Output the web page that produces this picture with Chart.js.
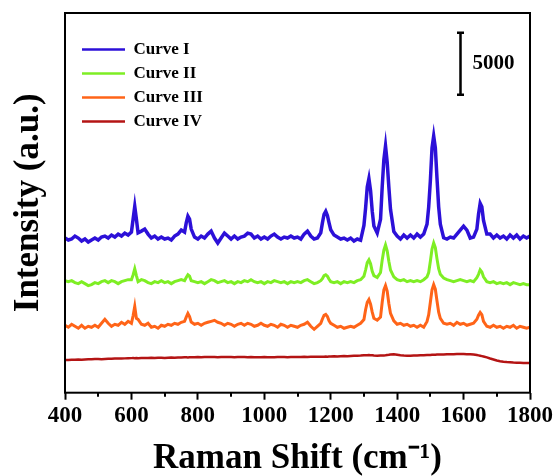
<!DOCTYPE html>
<html>
<head>
<meta charset="utf-8">
<script src="https://cdn.jsdelivr.net/npm/chart.js@4.4.1/dist/chart.umd.min.js"></script>
<style>
    body { margin: 0; background: #fff; }
    #caixa { width: 559px; height: 476px; }
</style>
</head>
<body>
<div id="caixa"><canvas id="grafico"></canvas></div>
<script>
// Raman shift (cm-1) shared by all curves
const ramanShift = [
    400, 410, 420, 430, 440, 450, 460, 470, 480, 490, 500, 510, 520, 530, 540, 550, 560, 570, 580, 590, 600,
    605, 610, 615, 620,
    630, 640, 650, 660, 670, 680, 690, 700, 710, 720, 730, 740, 750, 760,
    765, 770, 775, 780,
    790, 800, 810, 820, 830, 840, 850, 860, 870, 880,
    890, 900, 910, 920, 930, 940, 950, 960, 970, 980,
    990, 1000, 1010, 1020, 1030, 1040, 1050, 1060, 1070, 1080,
    1090, 1100, 1110, 1120, 1130, 1140, 1150, 1160, 1170,
    1175, 1180, 1185, 1190, 1195, 1200,
    1210, 1220, 1230, 1240, 1250, 1260, 1270, 1280, 1290, 1300,
    1305, 1310, 1315, 1320, 1325, 1330,
    1340, 1350,
    1355, 1360, 1365, 1370, 1375, 1380,
    1390, 1400, 1410, 1420, 1430, 1440, 1450, 1460, 1470, 1480, 1490,
    1495, 1500, 1505, 1510, 1515, 1520, 1525, 1530,
    1540, 1550, 1560, 1570, 1580, 1590, 1600, 1610, 1620, 1630, 1640,
    1645, 1650, 1655, 1660,
    1670, 1680, 1690, 1700, 1710, 1720, 1730, 1740, 1750, 1760, 1770, 1780, 1790, 1800
];

const curva1 = [
    12480, 12320, 12400, 12640, 12480, 12240, 12400, 12160, 12320, 12480, 12320, 12560, 12640, 12480, 12720, 12560, 12800, 12640, 12880, 12720, 12960,
    14000, 15040, 14000, 12900,
    13040, 13200, 12800, 12480, 12640, 12400, 12560, 12400, 12480, 12320, 12640, 12800, 13120, 12960,
    13700, 14240, 14000, 13200,
    12560, 12400, 12640, 12480, 12800, 13040, 12480, 12080, 12480, 12880,
    12640, 12400, 12640, 12400, 12560, 12640, 12880, 12800, 12480, 12640,
    12400, 12560, 12400, 12640, 12800, 12560, 12400, 12560, 12480, 12640,
    12480, 12560, 12400, 12800, 13040, 12640, 12400, 12480, 12900,
    13700, 14400, 14640, 14300, 13700, 13150,
    12720, 12560, 12400, 12480, 12320, 12480, 12240, 12400, 12300, 13500,
    14900, 16600, 17280, 16300, 14650, 13450,
    12880, 14000,
    16600, 18800, 19920, 18600, 16600, 14800,
    13000, 12640, 12400, 12720, 12480, 12720, 12480, 12800, 12560, 12800, 13600,
    15000, 17100, 19750, 20720, 19750, 17300, 15000, 13600,
    12500, 12400, 12560, 12480, 12800, 13120, 13440, 13120, 12480, 12560, 13200,
    14400, 15280, 15000, 13900,
    12800, 12800, 12480, 12720, 12480, 12640, 12400, 12720, 12480, 12720, 12400, 12640, 12480, 12640
];

const curva2 = [
    9040, 8960, 9040, 8880, 8800, 8960, 8800, 8640, 8720, 8880, 8800, 8960, 9040, 8880, 9040, 8960, 8800, 8960, 9040, 9120, 9120,
    9500, 10000, 9450, 8960,
    9120, 9040, 8880, 8800, 8960, 8880, 9040, 8880, 8960, 8800, 8960, 9040, 9120, 9040,
    9300, 9520, 9400, 9040,
    8960, 8880, 8960, 8800, 8960, 9120, 9040, 8880, 8960, 9040,
    8880, 8960, 8800, 8960, 8880, 9040, 8960, 9120, 8960, 8880,
    8960, 8800, 8960, 8880, 9040, 8960, 8880, 8960, 8800, 8960,
    8880, 8960, 8880, 9040, 9120, 8960, 8800, 8880, 9040,
    9200, 9450, 9520, 9400, 9150, 8960,
    8880, 8960, 8800, 8960, 8880, 8960, 8880, 9040, 9120, 9400,
    9900, 10500, 10720, 10400, 9800, 9450,
    9300, 9700,
    10700, 11500, 11920, 11450, 10600, 9900,
    9350, 9120, 9040, 9120, 8960, 9040, 8960, 9040, 8960, 9120, 9350,
    9700, 10600, 11600, 12080, 11700, 10800, 10000, 9550,
    9250, 9120, 9040, 8960, 9040, 9120, 9040, 8960, 9040, 8960, 9280,
    9550, 9920, 9750, 9350,
    8960, 8880, 8960, 8800, 8880, 8800, 8880, 8720, 8880, 8800, 8720, 8800, 8720, 8720
];

const curva3 = [
    5440, 5280, 5520, 5360, 5200, 5440, 5200, 5360, 5280, 5440, 5280, 5600, 5920, 5600, 5360, 5520, 5440, 5680, 5520, 5760, 5600,
    6200, 6960, 6000, 5920,
    5520, 5440, 5600, 5280, 5360, 5200, 5440, 5360, 5520, 5440, 5600, 5520, 5680, 5760,
    6100, 6400, 6150, 5700,
    5520, 5600, 5440, 5600, 5680, 5760, 5840, 5680, 5600, 5440,
    5600, 5520, 5360, 5520, 5600, 5440, 5600, 5520, 5360, 5440,
    5600, 5440, 5360, 5520, 5440, 5280, 5520, 5440, 5280, 5440,
    5360, 5280, 5440, 5520, 5680, 5360, 5120, 5360, 5600,
    5950, 6250, 6320, 6150, 5800, 5600,
    5440, 5280, 5360, 5200, 5280, 5360, 5280, 5440, 5600, 5900,
    6700, 7300, 7520, 7150, 6500, 6000,
    5850, 6100,
    7300, 8300, 8640, 8200, 7200, 6400,
    5800, 5520, 5600, 5440, 5520, 5360, 5440, 5280, 5440, 5280, 5750,
    6300, 7300, 8300, 8720, 8350, 7400, 6500, 6000,
    5600, 5520, 5600, 5440, 5680, 5520, 5600, 5440, 5520, 5600, 5920,
    6250, 6480, 6300, 5750,
    5360, 5280, 5440, 5280, 5360, 5200, 5360, 5280, 5440, 5200, 5360, 5280, 5200, 5280
];

const curva4 = [
    2640, 2640, 2660, 2650, 2680, 2660, 2680, 2700, 2690, 2710, 2720, 2700, 2720, 2740, 2730, 2750, 2760, 2750, 2770, 2780, 2790,
    2800, 2790, 2800, 2790,
    2800, 2810, 2800, 2820, 2810, 2830, 2820, 2810, 2830, 2840, 2830, 2850, 2840, 2860,
    2860, 2850, 2860, 2870,
    2870, 2880, 2870, 2890, 2880, 2890, 2880, 2870, 2890, 2880,
    2890, 2880, 2870, 2880, 2890, 2880, 2870, 2880, 2870, 2860,
    2870, 2880, 2870, 2860, 2870, 2880, 2890, 2880, 2870, 2880,
    2890, 2880, 2890, 2900, 2890, 2900, 2910, 2900, 2910,
    2900, 2910, 2920, 2910, 2920, 2930,
    2940, 2930, 2950, 2960, 2950, 2970, 2980, 2990, 3000, 3020,
    3030, 3020, 3040, 3030, 3020, 3000,
    2990, 3000,
    3000, 3010, 3020, 3040, 3060, 3090,
    3110, 3070, 3030, 3000, 2990, 2990, 3000, 3010, 3020, 3030, 3040,
    3040, 3050, 3060, 3060, 3070, 3080, 3080, 3090,
    3090, 3100, 3110, 3110, 3120, 3120, 3120, 3110, 3100, 3080, 3040,
    3010, 2980, 2950, 2920,
    2850, 2760, 2680, 2600, 2540, 2500, 2470, 2450, 2430, 2420, 2410, 2400, 2400, 2390
];

const nomesCurvas = ['Curve I', 'Curve II', 'Curve III', 'Curve IV'];
const coresCurvas = ['#2c10d8', '#7eee24', '#ff6418', '#b41414'];
const espessuras = [3.5, 3, 3, 2.5];
const ticksMenores = [500, 700, 900, 1100, 1300, 1500, 1700];

// barra de escala "5000"
const barraValor = 5000;
const barraX = 1590;
const barraTopo = 29040;

const fonte = 'Liberation Serif, Times New Roman, serif';

function montarPontos(valores) {
    return valores.map((v, i) => ({ x: ramanShift[i], y: v }));
}

const listaSeries = [curva1, curva2, curva3, curva4];
const datasets = listaSeries.map((serie, i) => ({
    label: nomesCurvas[i],
    data: montarPontos(serie),
    borderColor: coresCurvas[i],
    backgroundColor: coresCurvas[i],
    borderWidth: espessuras[i],
    pointRadius: 0,
    tension: 0,
    fill: false
}));

const pluginMoldura = {
    id: 'moldura',
    afterLayout(chart) {
        // empurra a legenda para dentro do quadro
        const area = chart.chartArea;
        const leg = chart.legend;
        if (!leg) return;
        leg.left = area.left + 10;
        leg.top = area.top + 21;
        leg.right = area.right;
        leg.bottom = area.bottom;
    },
    afterDraw(chart) {
        const ctx = chart.ctx;
        const area = chart.chartArea;
        const x = chart.scales.x;
        const y = chart.scales.y;
        ctx.save();
        ctx.strokeStyle = '#000';
        ctx.lineWidth = 2;
        ctx.strokeRect(area.left, area.top, area.right - area.left, area.bottom - area.top);

        // ticks menores
        ticksMenores.forEach(v => {
            const px = Math.round(x.getPixelForValue(v));
            ctx.beginPath();
            ctx.moveTo(px, area.bottom);
            ctx.lineTo(px, area.bottom + 4);
            ctx.stroke();
        });

        // barra de escala
        const bx = Math.round(x.getPixelForValue(barraX)) + 0.5;
        const y1 = y.getPixelForValue(barraTopo);
        const y2 = y.getPixelForValue(barraTopo - barraValor);
        ctx.lineWidth = 2.5;
        ctx.beginPath();
        ctx.moveTo(bx, y1);
        ctx.lineTo(bx, y2);
        ctx.moveTo(bx - 3.5, y1);
        ctx.lineTo(bx + 3.5, y1);
        ctx.moveTo(bx - 3.5, y2);
        ctx.lineTo(bx + 3.5, y2);
        ctx.stroke();
        ctx.fillStyle = '#000';
        ctx.font = 'bold 21px ' + fonte;
        ctx.textBaseline = 'middle';
        ctx.textAlign = 'left';
        ctx.fillText(String(barraValor), bx + 12, (y1 + y2) / 2);
        ctx.restore();
    }
};

new Chart(document.getElementById('grafico'), {
    type: 'line',
    data: { datasets: datasets },
    options: {
        responsive: true,
        maintainAspectRatio: false,
        animation: false,
        layout: { padding: { left: 6, right: 29, top: 13, bottom: 0 } },
        scales: {
            x: {
                type: 'linear',
                min: 400,
                max: 1800,
                ticks: {
                    stepSize: 200,
                    autoSkip: false,
                    maxRotation: 0,
                    padding: 4,
                    color: '#000',
                    callback: (valor) => String(valor),
                    font: { family: fonte, size: 23, weight: 'bold', lineHeight: 1.1 }
                },
                grid: { display: true, drawOnChartArea: false, tickLength: 7, tickWidth: 2, tickColor: '#000' },
                border: { display: false },
                title: {
                    display: true,
                    text: 'Raman Shift (cm\u207B\u00B9)',
                    color: '#000',
                    padding: { top: 8, bottom: 0 },
                    font: { family: fonte, size: 35, weight: 'bold', lineHeight: 1.0 }
                }
            },
            y: {
                min: 0,
                max: 30640,
                ticks: { display: false },
                grid: { display: false },
                border: { display: false },
                title: {
                    display: true,
                    text: 'Intensity (a.u.)',
                    color: '#000',
                    padding: { top: 2, bottom: 7 },
                    font: { family: fonte, size: 35, weight: 'bold', lineHeight: 1.2 }
                }
            }
        },
        plugins: {
            legend: {
                position: 'chartArea',
                align: 'start',
                labels: {
                    usePointStyle: true,
                    pointStyle: 'line',
                    pointStyleWidth: 43,
                    padding: 7,
                    color: '#000',
                    font: { family: fonte, size: 17, weight: 'bold' },
                    generateLabels(chart) {
                        const itens = Chart.defaults.plugins.legend.labels.generateLabels(chart);
                        itens.forEach(item => { item.lineWidth = 2.5; });
                        return itens;
                    }
                }
            },
            tooltip: { enabled: false }
        }
    },
    plugins: [pluginMoldura]
});
</script>
</body>
</html>
